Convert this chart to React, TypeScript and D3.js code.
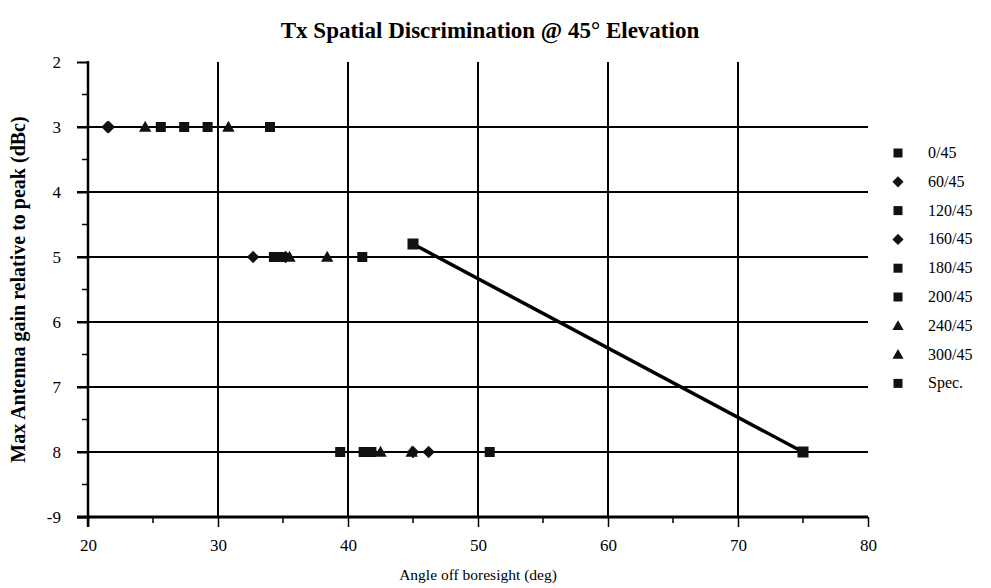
import React, { useEffect, useRef } from "react";
import * as d3 from "d3";

// gain levels where the beamwidth was read (dBc below peak)
const levels = [3, 5, 8];

const seriesNames = ["0/45", "60/45", "120/45", "160/45", "180/45", "200/45", "240/45", "300/45"];
const seriesShapes = ["square", "diamond", "square", "diamond", "square", "square", "triangle", "triangle"];

// angle off boresight (deg) at each level, one array per series
const s0 = [25.6, 34.3, 39.4];
const s60 = [21.5, 32.7, 45.0];
const s120 = [27.4, 34.7, 41.2];
const s160 = [21.6, 35.2, 46.2];
const s180 = [29.2, 34.5, 41.8];
const s200 = [34.0, 41.1, 50.9];
const s240 = [24.4, 35.5, 42.5];
const s300 = [30.8, 38.4, 44.9];
const seriesAngles = [s0, s60, s120, s160, s180, s200, s240, s300];

const specAngles = [45, 75];
const specLevels = [4.8, 8];

const xTicks = [20, 30, 40, 50, 60, 70, 80];
const yTicks = [2, 3, 4, 5, 6, 7, 8, 9];
const yTickLabels = ["2", "3", "4", "5", "6", "7", "8", "-9"];

const sizes = { width: 991, height: 588 };
const margin = { top: 62, bottom: 71, left: 88, right: 123 };

const x = d3.scaleLinear()
  .domain([20, 80])
  .range([margin.left, sizes.width - margin.right]);

const y = d3.scaleLinear()
  .domain([2, 9])
  .range([margin.top, sizes.height - margin.bottom]);

const font = "'Liberation Serif', 'Times New Roman', serif";

function drawMarker(g, shape, cx, cy, s) {
  if (shape === "square") {
    g.append("rect")
      .attr("x", cx - s / 2).attr("y", cy - s / 2)
      .attr("width", s).attr("height", s)
      .attr("fill", "#111");
  } else if (shape === "diamond") {
    const r = s * 0.62;
    g.append("path")
      .attr("d", `M${cx},${cy - r}L${cx + r},${cy}L${cx},${cy + r}L${cx - r},${cy}Z`)
      .attr("fill", "#111");
  } else {
    const r = s * 0.62;
    g.append("path")
      .attr("d", `M${cx},${cy - r}L${cx + r},${cy + r * 0.75}L${cx - r},${cy + r * 0.75}Z`)
      .attr("fill", "#111");
  }
}

export default function App() {
  const ref = useRef(null);

  useEffect(() => {
    const svg = d3.select(ref.current);
    svg.selectAll("*").remove();

    // horizontal grid lines (with the tick stubs to the left of the axis)
    svg.append("g")
      .selectAll("line")
      .data(yTicks.slice(1, -1))
      .join("line")
      .attr("x1", margin.left - 11)
      .attr("x2", x(80))
      .attr("y1", (d) => y(d))
      .attr("y2", (d) => y(d))
      .attr("stroke", "#000")
      .attr("stroke-width", 2);

    // vertical grid lines
    svg.append("g")
      .selectAll("line")
      .data(xTicks.slice(1, -1))
      .join("line")
      .attr("x1", (d) => x(d))
      .attr("x2", (d) => x(d))
      .attr("y1", y(2))
      .attr("y2", y(9))
      .attr("stroke", "#000")
      .attr("stroke-width", 2);

    // y axis
    const yAxis = d3.axisLeft(y)
      .tickValues(yTicks)
      .tickFormat((d, i) => yTickLabels[i])
      .tickSize(11)
      .tickPadding(16);
    const gy = svg.append("g")
      .attr("transform", `translate(${margin.left},0)`)
      .call(yAxis);
    gy.select(".domain").remove();
    gy.selectAll(".tick line").attr("stroke-width", 2);
    gy.append("line")
      .attr("x1", 0).attr("x2", 0)
      .attr("y1", y(2) - 1).attr("y2", y(9) + 10)
      .attr("stroke", "#000").attr("stroke-width", 2.5);
    gy.append("g")
      .selectAll("line")
      .data(d3.range(2.5, 9, 1))
      .join("line")
      .attr("x1", -6).attr("x2", 0)
      .attr("y1", (d) => y(d)).attr("y2", (d) => y(d))
      .attr("stroke", "#000").attr("stroke-width", 1.5);

    // x axis
    const xAxis = d3.axisBottom(x)
      .tickValues(xTicks)
      .tickSize(10)
      .tickPadding(12);
    const gx = svg.append("g")
      .attr("transform", `translate(0,${y(9)})`)
      .call(xAxis);
    gx.select(".domain").remove();
    gx.selectAll(".tick line").attr("stroke-width", 1.5);
    gx.append("line")
      .attr("x1", x(20) - 11).attr("x2", x(80))
      .attr("y1", 0).attr("y2", 0)
      .attr("stroke", "#000").attr("stroke-width", 3);
    gx.append("g")
      .selectAll("line")
      .data(d3.range(25, 80, 10))
      .join("line")
      .attr("x1", (d) => x(d)).attr("x2", (d) => x(d))
      .attr("y1", 0).attr("y2", 6)
      .attr("stroke", "#000").attr("stroke-width", 1.5);

    svg.selectAll(".tick text")
      .attr("font-family", font)
      .attr("font-size", 17)
      .attr("fill", "#000");

    // spec line
    const line = d3.line()
      .x((d) => x(d[0]))
      .y((d) => y(d[1]));
    svg.append("path")
      .datum(specAngles.map((a, i) => [a, specLevels[i]]))
      .attr("d", line)
      .attr("fill", "none")
      .attr("stroke", "#000")
      .attr("stroke-width", 3.5);

    // markers
    const gm = svg.append("g");
    seriesAngles.forEach((angles, si) => {
      angles.forEach((a, i) => {
        drawMarker(gm, seriesShapes[si], x(a), y(levels[i]), 10);
      });
    });
    specAngles.forEach((a, i) => {
      drawMarker(gm, "square", x(a), y(specLevels[i]), 11);
    });

    // legend
    const legendNames = [...seriesNames, "Spec."];
    const legendShapes = [...seriesShapes, "square"];
    const gl = svg.append("g");
    legendNames.forEach((name, i) => {
      const ly = 153 + i * 28.8;
      drawMarker(gl, legendShapes[i], 898, ly, 9);
      gl.append("text")
        .attr("x", 928)
        .attr("y", ly + 5)
        .attr("font-family", font)
        .attr("font-size", 16)
        .text(name);
    });

    // titles
    svg.append("text")
      .attr("x", 490)
      .attr("y", 38)
      .attr("text-anchor", "middle")
      .attr("font-family", font)
      .attr("font-weight", "bold")
      .attr("font-size", 23)
      .text("Tx Spatial Discrimination @ 45° Elevation");

    svg.append("text")
      .attr("x", x(50))
      .attr("y", 580)
      .attr("text-anchor", "middle")
      .attr("font-family", font)
      .attr("font-size", 15.5)
      .text("Angle off boresight (deg)");

    svg.append("text")
      .attr("transform", `translate(25,${(y(2) + y(9)) / 2}) rotate(-90)`)
      .attr("text-anchor", "middle")
      .attr("font-family", font)
      .attr("font-weight", "bold")
      .attr("font-size", 20)
      .text("Max Antenna gain relative to peak (dBc)");
  }, []);

  return (
    <svg
      ref={ref}
      width={sizes.width}
      height={sizes.height}
      viewBox={`0 0 ${sizes.width} ${sizes.height}`}
      style={{ position: "absolute", left: 0, top: 0, background: "#fff" }}
    ></svg>
  );
}
